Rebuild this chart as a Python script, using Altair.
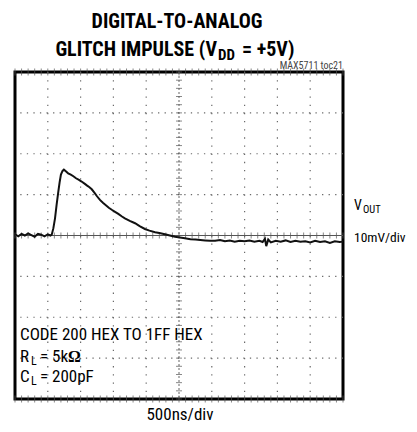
import altair as alt
import pandas as pd

# ---- data (divisions of 500 ns, millivolts) ----
t_div = [0.00, 0.10, 0.20, 0.30, 0.40, 0.50, 0.60, 0.70, 0.80, 0.90, 1.00, 1.08, 1.12,
         1.17, 1.22, 1.27, 1.32, 1.36, 1.40, 1.45, 1.49, 1.55, 1.62, 1.70, 1.78, 1.86,
         1.95, 2.03, 2.12, 2.20, 2.27, 2.34, 2.42, 2.50, 2.59, 2.68, 2.77, 2.86, 2.95,
         3.05, 3.15, 3.25, 3.35, 3.50, 3.66, 3.80, 3.96, 4.10, 4.27, 4.40, 4.57, 4.72,
         4.88, 5.03, 5.18, 5.35, 5.50, 5.65, 5.80, 5.95, 6.10, 6.25, 6.40, 6.55, 6.70,
         6.85, 7.00, 7.15, 7.30, 7.45, 7.55, 7.62, 7.66, 7.72, 7.80, 7.95, 8.10, 8.25,
         8.40, 8.55, 8.70, 8.85, 9.00, 9.15, 9.30, 9.45, 9.60, 9.75, 9.90, 10.0]
v_mv = [0.3, -0.2, 0.4, 0.0, 0.5, 0.1, -0.3, 0.4, 0.2, -0.2, 0.3, 0.0, 0.2,
        1.8, 4.2, 7.6, 10.7, 13.0, 14.9, 15.8, 16.1, 15.7, 15.2, 14.9, 14.5, 14.0,
        13.6, 13.2, 12.7, 12.2, 11.8, 11.3, 10.5, 9.6, 8.7, 8.0, 7.4, 6.8, 6.3,
        5.8, 5.3, 4.7, 4.2, 3.6, 3.0, 2.3, 1.6, 1.2, 0.8, 0.6, 0.3, 0.0,
        -0.3, -0.5, -0.7, -0.9, -1.0, -1.1, -1.2, -1.3, -1.3, -1.1, -1.4, -1.2, -1.5,
        -1.3, -1.4, -1.2, -1.5, -1.3, -1.6, -0.8, -2.6, -1.0, -1.7, -1.3, -1.5, -1.2,
        -1.6, -1.3, -1.5, -1.4, -1.7, -1.3, -1.6, -1.4, -1.8, -1.4, -1.6, -1.5]

grid_x = [1, 2, 3, 4, 6, 7, 8, 9]
grid_y = [-30, -20, -10, 10, 20, 30]
minor_x = [i / 5 for i in range(0, 51)]
minor_y = [i * 2 for i in range(-20, 21)]

W, H = 328, 327
NARROW = "Liberation Sans Narrow, Arial Narrow, Roboto Condensed, sans-serif"

xs = alt.Scale(domain=[0, 10], nice=False, zero=False)
ys = alt.Scale(domain=[-40, 40], nice=False, zero=False)

trace_df = pd.DataFrame({"t": t_div, "v": v_mv})

hgrid = alt.Chart(pd.DataFrame({"y": grid_y})).mark_rule(
    color="#6a6a6a", strokeWidth=1.2, strokeDash=[1.3, 5.26]
).encode(y=alt.Y("y:Q", scale=ys, axis=None))

vgrid = alt.Chart(pd.DataFrame({"x": grid_x})).mark_rule(
    color="#6a6a6a", strokeWidth=1.2, strokeDash=[1.3, 6.87]
).encode(x=alt.X("x:Q", scale=xs, axis=None))

hcenter = alt.Chart(pd.DataFrame({"y": [0]})).mark_rule(
    color="#555", strokeWidth=1
).encode(y=alt.Y("y:Q", scale=ys, axis=None))

vcenter = alt.Chart(pd.DataFrame({"x": [5]})).mark_rule(
    color="#666", strokeWidth=1, strokeDash=[2, 2]
).encode(x=alt.X("x:Q", scale=xs, axis=None))

hticks = alt.Chart(pd.DataFrame({"x": minor_x, "y": [0] * len(minor_x)})).mark_tick(
    orient="vertical", color="#555", size=6, thickness=1
).encode(x=alt.X("x:Q", scale=xs, axis=None), y=alt.Y("y:Q", scale=ys, axis=None))

vticks = alt.Chart(pd.DataFrame({"y": minor_y, "x": [5] * len(minor_y)})).mark_tick(
    orient="horizontal", color="#555", size=6, thickness=1
).encode(x=alt.X("x:Q", scale=xs, axis=None), y=alt.Y("y:Q", scale=ys, axis=None))

edge_top = alt.Chart(pd.DataFrame({"x": minor_x, "y": [40] * len(minor_x)})).mark_tick(
    orient="vertical", color="#555", size=7, thickness=1
).encode(x=alt.X("x:Q", scale=xs, axis=None), y=alt.Y("y:Q", scale=ys, axis=None))

edge_bot = alt.Chart(pd.DataFrame({"x": minor_x, "y": [-40] * len(minor_x)})).mark_tick(
    orient="vertical", color="#555", size=7, thickness=1
).encode(x=alt.X("x:Q", scale=xs, axis=None), y=alt.Y("y:Q", scale=ys, axis=None))

trace = alt.Chart(trace_df).mark_line(color="#111", strokeWidth=2).encode(
    x=alt.X("t:Q", scale=xs, axis=None),
    y=alt.Y("v:Q", scale=ys, axis=None),
)


def label(text, x, y, size=14, align="left", weight="normal", font=NARROW, color="black"):
    return alt.Chart(alt.Data(values=[{"a": 1}])).mark_text(
        text=text, align=align, baseline="alphabetic", fontSize=size,
        fontWeight=weight, font=font, color=color
    ).encode(x=alt.value(x), y=alt.value(y))


# positions are relative to the plot frame's top-left corner
texts = [
    label("DIGITAL-TO-ANALOG", 162, -44, size=20, align="center", weight="bold"),
    label("GLITCH IMPULSE (V", 202, -16, size=20, align="right", weight="bold"),
    label("DD", 203, -12, size=15, weight="bold"),
    label("= +5V)", 227, -16, size=20, weight="bold"),
    label("MAX5711 toc21", 328, -3, size=10, align="right", color="#444"),
    label("V", 339, 138, size=14),
    label("OUT", 348, 141, size=10.5),
    label("10mV/div", 339, 170, size=13.5),
    label("500ns/div", 165, 348, size=17, align="center"),
    label("CODE 200 HEX TO 1FF HEX", 5, 268, size=17),
    label("R", 5, 290, size=17),
    label("L", 16, 293, size=12),
    label("= 5k", 25, 290, size=17),
    label("Ω", 53, 290, size=16, weight="bold", font="Liberation Serif, serif"),
    label("C", 5, 310, size=17),
    label("L", 16, 313, size=12),
    label("= 200pF", 25, 310, size=17),
]

chart = alt.layer(
    hgrid, vgrid, hcenter, vcenter, hticks, vticks, edge_top, edge_bot, trace, *texts
).properties(
    width=W, height=H,
    autosize=alt.AutoSizeParams(type="none"),
    padding={"left": 7, "top": 64, "right": 66, "bottom": 25},
).configure_view(stroke="black", strokeWidth=3)

chart.save("out.html", embed_options={"renderer": "svg", "actions": False})
